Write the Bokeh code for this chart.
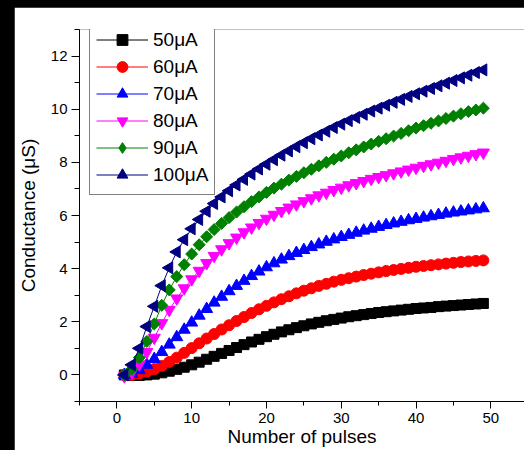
from bokeh.plotting import figure
from bokeh.models import SingleIntervalTicker, Range1d, Legend, LegendItem
from bokeh.embed import file_html
from bokeh.resources import INLINE
import math

pulses = list(range(1, 50))

g50 = [0.00, -0.02, -0.02, 0.00, 0.03, 0.08, 0.14, 0.21, 0.29, 0.38,
       0.48, 0.59, 0.70, 0.81, 0.92, 1.03, 1.14, 1.24, 1.34, 1.44,
       1.53, 1.62, 1.70, 1.78, 1.85, 1.92, 1.98, 2.04, 2.09, 2.14,
       2.19, 2.23, 2.27, 2.31, 2.35, 2.38, 2.41, 2.44, 2.47, 2.50,
       2.52, 2.54, 2.57, 2.59, 2.61, 2.63, 2.65, 2.67, 2.69]
g60 = [0.00, 0.00, 0.05, 0.12, 0.22, 0.34, 0.49, 0.65, 0.83, 1.01,
       1.19, 1.37, 1.54, 1.71, 1.87, 2.03, 2.18, 2.33, 2.47, 2.60,
       2.73, 2.85, 2.96, 3.07, 3.17, 3.26, 3.35, 3.43, 3.51, 3.58,
       3.64, 3.70, 3.76, 3.81, 3.86, 3.91, 3.95, 3.99, 4.03, 4.07,
       4.10, 4.13, 4.16, 4.19, 4.22, 4.25, 4.27, 4.29, 4.31]
g70 = [0.00, 0.04, 0.18, 0.38, 0.60, 0.86, 1.14, 1.42, 1.70, 1.97,
       2.23, 2.48, 2.72, 2.94, 3.15, 3.35, 3.54, 3.72, 3.89, 4.05,
       4.20, 4.34, 4.47, 4.59, 4.70, 4.81, 4.91, 5.01, 5.10, 5.19,
       5.27, 5.35, 5.43, 5.50, 5.57, 5.64, 5.70, 5.76, 5.82, 5.87,
       5.92, 5.97, 6.02, 6.07, 6.11, 6.15, 6.19, 6.23, 6.27]
g80 = [-0.05, 0.10, 0.40, 0.86, 1.40, 1.95, 2.45, 2.88, 3.26, 3.60,
       3.92, 4.21, 4.48, 4.73, 4.96, 5.17, 5.37, 5.55, 5.72, 5.88,
       6.03, 6.17, 6.30, 6.42, 6.54, 6.65, 6.76, 6.86, 6.96, 7.05,
       7.14, 7.22, 7.30, 7.38, 7.45, 7.52, 7.59, 7.66, 7.73, 7.80,
       7.87, 7.93, 7.99, 8.06, 8.13, 8.19, 8.25, 8.31, 8.37]
g90 = [0.00, 0.22, 0.65, 1.26, 1.92, 2.62, 3.20, 3.70, 4.15, 4.55,
       4.90, 5.20, 5.47, 5.70, 5.92, 6.13, 6.33, 6.52, 6.70, 6.87,
       7.03, 7.18, 7.33, 7.47, 7.61, 7.74, 7.87, 8.00, 8.12, 8.24,
       8.36, 8.47, 8.58, 8.69, 8.79, 8.89, 8.99, 9.09, 9.19, 9.29,
       9.38, 9.47, 9.56, 9.65, 9.74, 9.83, 9.91, 9.97, 10.04]
g100 = [0.00, 0.38, 1.00, 1.82, 2.58, 3.36, 4.03, 4.63, 5.09, 5.50,
        5.85, 6.16, 6.45, 6.70, 6.93, 7.15, 7.36, 7.56, 7.75, 7.93,
        8.10, 8.27, 8.43, 8.59, 8.74, 8.89, 9.03, 9.17, 9.31, 9.44,
        9.57, 9.69, 9.81, 9.93, 10.04, 10.15, 10.26, 10.37, 10.48, 10.58,
        10.68, 10.78, 10.88, 10.98, 11.08, 11.18, 11.28, 11.38, 11.48]

labels = ["50\u03bcA", "60\u03bcA", "70\u03bcA", "80\u03bcA", "90\u03bcA", "100\u03bcA"]
series = [g50, g60, g70, g80, g90, g100]
colors = ["#000000", "#ff0000", "#0000ff", "#ff00ff", "#008000", "#000080"]
markers = ["square", "circle", "triangle", "inverted_triangle", "square", "triangle"]
sizes = [10, 11, 12, 12, 8.5, 12]
angles = [0, 0, 0, 0, math.pi / 4, math.pi / 2]
legend_markers = ["square", "circle", "triangle", "inverted_triangle", "diamond", "triangle"]

FONT = "Liberation Sans"

p = figure(width=510, height=443, output_backend="svg", toolbar_location=None,
           x_range=Range1d(-5, 54.5), y_range=Range1d(-1, 13),
           min_border_left=60, min_border_right=0, min_border_top=22,
           min_border_bottom=49)
p.outline_line_color = None
p.grid.visible = False
p.background_fill_color = "white"
p.border_fill_color = "white"

items = []
for ys, lab, c, m, s, a, lm in zip(series, labels, colors, markers, sizes, angles, legend_markers):
    r_line = p.line(pulses, ys, line_color=c, line_width=1)
    r_leg = None
    if lm != m:
        # shape used for the legend sample, drawn beneath (hidden by) the data marker
        r_leg = p.scatter(pulses, ys, marker=lm, size=10, fill_color=c, line_color=c)
    r_pts = p.scatter(pulses, ys, marker=m, size=s, angle=a, fill_color=c, line_color=c)
    if r_leg is None:
        r_leg = r_pts
    items.append(LegendItem(label=lab, renderers=[r_line, r_leg]))

legend = Legend(items=items)
p.add_layout(legend)

p.xaxis.ticker = SingleIntervalTicker(interval=10, num_minor_ticks=2)
p.yaxis.ticker = SingleIntervalTicker(interval=2, num_minor_ticks=2)
p.xaxis.axis_label = "Number of pulses"
p.yaxis.axis_label = "Conductance (\u03bcS)"
for ax in (p.xaxis, p.yaxis):
    ax.axis_label_text_font = FONT
    ax.axis_label_text_font_size = "19px"
    ax.axis_label_text_font_style = "normal"
    ax.axis_label_text_color = "black"
    ax.major_label_text_font = FONT
    ax.major_label_text_font_size = "15px"
    ax.major_label_text_color = "black"
    ax.axis_line_color = "black"
    ax.major_tick_line_color = "black"
    ax.minor_tick_line_color = "black"
    ax.major_tick_in = 0
    ax.minor_tick_in = 0
    ax.major_label_standoff = 4
p.xaxis.major_tick_out = 7
p.xaxis.minor_tick_out = 4
p.yaxis.major_tick_out = 8
p.yaxis.minor_tick_out = 5
p.xaxis.axis_label_standoff = 0
p.yaxis.axis_label_standoff = 9

legend.location = (10, 206)
legend.margin = 0
legend.padding = 6
legend.spacing = 0
legend.glyph_width = 52
legend.glyph_height = 27
legend.label_height = 27
legend.label_standoff = 5
legend.label_text_font = FONT
legend.label_text_font_size = "19px"
legend.label_text_color = "black"
legend.border_line_color = "black"
legend.border_line_width = 1
legend.background_fill_color = "white"
legend.background_fill_alpha = 1.0

html = file_html(p, INLINE, title="Conductance vs pulses")
html = html.replace("</head>", "<style>html,body{margin:0;background:#000;}body{padding:7px 0 0 14px;}</style></head>")
open("out.html", "w").write(html)
